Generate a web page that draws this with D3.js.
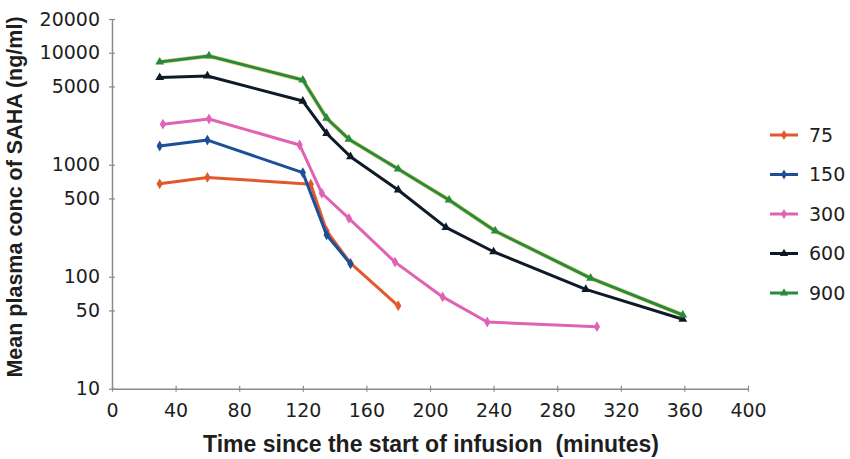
<!DOCTYPE html>
<html>
<head>
<meta charset="utf-8">
<script src="https://cdn.jsdelivr.net/npm/d3@7"></script>
<style>
  body { margin: 0; background: #fff; }
  svg { display: block; font-family: "Liberation Sans", Arial, sans-serif; }
</style>
</head>
<body>
<div id="chart"></div>
<script>
// Dose groups (mg/m2) and their concentration-time profiles
const doses = ["75", "150", "300", "600", "900"];
const times75 = [30, 60, 125, 135, 150, 180];
const conc75 = [675, 770, 670, 256, 132, 55];
const times150 = [30, 60, 120, 135, 150];
const conc150 = [1470, 1660, 850, 236, 130];
const times300 = [32, 61, 118, 132, 149, 178, 208, 236, 305];
const conc300 = [2300, 2560, 1500, 556, 332, 135, 66, 39.4, 35.8];
const times600 = [30, 60, 120, 135, 150, 180, 210, 240, 298, 359];
const conc600 = [6000, 6200, 3700, 1900, 1180, 595, 276, 167, 77, 41.7];
const times900 = [30, 61, 120, 135, 149, 180, 212, 241, 301, 359];
const conc900 = [8260, 9350, 5700, 2600, 1690, 915, 484, 256, 97, 45.5];
const xTicks = [0, 40, 80, 120, 160, 200, 240, 280, 320, 360, 400];
const yTicks = [10, 50, 100, 500, 1000, 5000, 10000, 20000];

const seriesTimes = [times75, times150, times300, times600, times900];
const seriesConc = [conc75, conc150, conc300, conc600, conc900];
const colors = ["#e2582c", "#1c4f9a", "#e062b4", "#0e1a28", "#2a8a3c"];
const symbols = [d3.symbolDiamond, d3.symbolDiamond, d3.symbolDiamond, d3.symbolTriangle, d3.symbolTriangle];

const width = 850;
const height = 459;

const x = d3.scaleLinear().domain([0, 400]).range([112, 748]);
const y = d3.scaleLog().domain([10, 20000]).range([388.7, 19]);

const svg = d3.select("#chart")
  .append("svg")
  .attr("width", width)
  .attr("height", height)
  .attr("viewBox", [0, 0, width, height]);

const axisColor = "#8a8a8a";
const textColor = "#1e1e1e";
const tickFont = "'DejaVu Sans', Verdana, sans-serif";

// x axis (ticks cross the line)
svg.append("g")
  .attr("transform", `translate(0,${y(10)})`)
  .call(d3.axisBottom(x).tickValues(xTicks).tickSize(0).tickPadding(15))
  .call((g) => g.select(".domain").attr("stroke", axisColor).attr("stroke-width", 1.5))
  .call((g) => g.selectAll(".tick line").attr("y1", -3).attr("y2", 3)
    .attr("stroke", axisColor).attr("stroke-width", 1.2))
  .call((g) => g.selectAll(".tick text")
    .attr("fill", textColor)
    .attr("font-size", "19px")
    .attr("font-family", tickFont));

// y axis (log)
svg.append("g")
  .attr("transform", `translate(${x(0)},0)`)
  .call(d3.axisLeft(y).tickValues(yTicks).tickFormat(d3.format("d")).tickSize(0).tickPadding(12))
  .call((g) => g.select(".domain").attr("stroke", axisColor).attr("stroke-width", 1.5))
  .call((g) => g.selectAll(".tick line").attr("x1", -3).attr("x2", 3)
    .attr("stroke", axisColor).attr("stroke-width", 1.2))
  .call((g) => g.selectAll(".tick text")
    .attr("fill", textColor)
    .attr("font-size", "19px")
    .attr("font-family", tickFont));

// axis titles
svg.append("text")
  .attr("x", 431)
  .attr("y", 452)
  .attr("text-anchor", "middle")
  .attr("font-size", "23px")
  .attr("font-weight", "700")
  .attr("fill", textColor)
  .attr("xml:space", "preserve")
  .text("Time since the start of infusion  (minutes)");

svg.append("text")
  .attr("transform", "translate(22,197) rotate(-90)")
  .attr("text-anchor", "middle")
  .attr("font-size", "21.5px")
  .attr("font-weight", "700")
  .attr("fill", textColor)
  .text("Mean plasma conc of SAHA (ng/ml)");

// series lines + markers
const line = d3.line().x((d) => x(d[0])).y((d) => y(d[1]));

doses.forEach((dose, i) => {
  const pts = d3.zip(seriesTimes[i], seriesConc[i]);
  const g = svg.append("g");
  if (dose === "900") {
    g.append("path")
      .attr("d", line(pts))
      .attr("fill", "none")
      .attr("stroke", "#eadc9a")
      .attr("stroke-width", 4.6)
      .attr("stroke-linejoin", "round");
  }
  g.append("path")
    .attr("d", line(pts))
    .attr("fill", "none")
    .attr("stroke", colors[i])
    .attr("stroke-width", 3)
    .attr("stroke-linejoin", "round");
  g.selectAll("path.mark")
    .data(pts)
    .join("path")
    .attr("class", "mark")
    .attr("transform", (d) => `translate(${x(d[0])},${y(d[1])})`)
    .attr("d", d3.symbol().type(symbols[i]).size(34))
    .attr("fill", colors[i]);
});

// legend
const legendY = d3.scalePoint().domain(doses).range([135, 293]);
const legend = svg.append("g");
doses.forEach((dose, i) => {
  const ly = legendY(dose);
  legend.append("line")
    .attr("x1", 770).attr("x2", 798)
    .attr("y1", ly).attr("y2", ly)
    .attr("stroke", colors[i])
    .attr("stroke-width", 3);
  legend.append("path")
    .attr("transform", `translate(784,${ly})`)
    .attr("d", d3.symbol().type(symbols[i]).size(30))
    .attr("fill", colors[i]);
  legend.append("text")
    .attr("x", 809)
    .attr("y", ly)
    .attr("dy", "0.36em")
    .attr("font-size", "19px")
    .attr("font-family", tickFont)
    .attr("fill", textColor)
    .text(dose);
});
</script>
</body>
</html>
